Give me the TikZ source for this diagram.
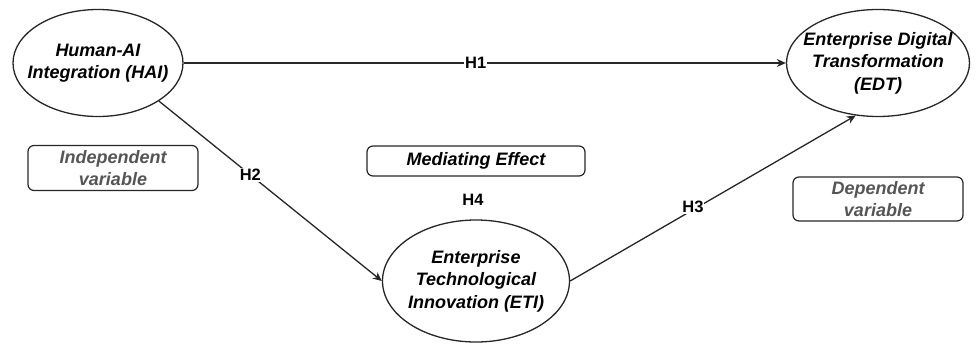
\documentclass[tikz,border=0pt]{standalone}
\usepackage{fontspec}
\setmainfont{Liberation Sans}
\usepackage{tikz}
\usetikzlibrary{arrows.meta,positioning,shapes.geometric}
\definecolor{edge}{HTML}{262626}
\definecolor{note}{HTML}{555555}
\begin{document}
\begin{tikzpicture}[x=1pt,y=-1pt,
construct/.style={draw=edge,ellipse,line width=1.3pt,inner sep=0pt},
ctext/.style={align=center,font=\fontsize{18}{22.5}\selectfont\bfseries\itshape},
notebox/.style={draw=edge,rounded corners=6pt,line width=1.2pt,align=center,inner sep=0pt,text=note,font=\fontsize{18}{22.5}\selectfont\bfseries\itshape},
hyp/.style={fill=white,inner sep=1pt,font=\fontsize{16.5}{18}\selectfont\bfseries},
arr/.style={-{Stealth[length=9pt,width=8pt]},line width=1.3pt,draw=edge}]
\useasboundingbox (0,0) rectangle (978,343);
\node[construct,minimum width=170pt,minimum height=107pt] at (98,63)(hai){};
\node[ctext] at (hai)(haitext){Human-AI\\Integration (HAI)};
\node[construct,minimum width=183pt,minimum height=107pt] at (878,63)(edt){};
\node[ctext] at (edt)(edttext){Enterprise Digital\\Transformation\\(EDT)};
\node[construct,minimum width=187pt,minimum height=122pt] at (476,281)(eti){};
\node[ctext] at (eti)(etitext){Enterprise\\Technological\\Innovation (ETI)};
\node[notebox,minimum width=170pt,minimum height=45pt] at (113,168)(indep){Independent\\variable};
\node[notebox,minimum width=218pt,minimum height=30pt,text=black] at (476,161)(med){Mediating Effect};
\node[notebox,minimum width=170pt,minimum height=44pt] at (878,199)(dep){Dependent\\variable};
\node[hyp,fill=none] at (473,200)(h4){H4};
\draw[arr](hai.east)--node[hyp,pos=.485]{H1}(edt.west);
\draw[arr](hai.-32)--node[hyp,pos=.41]{H2}(eti.west);
\draw[arr](eti.east)--node[hyp,pos=.43,yshift=3pt]{H3}(edt.-113);
\end{tikzpicture}
\end{document}
